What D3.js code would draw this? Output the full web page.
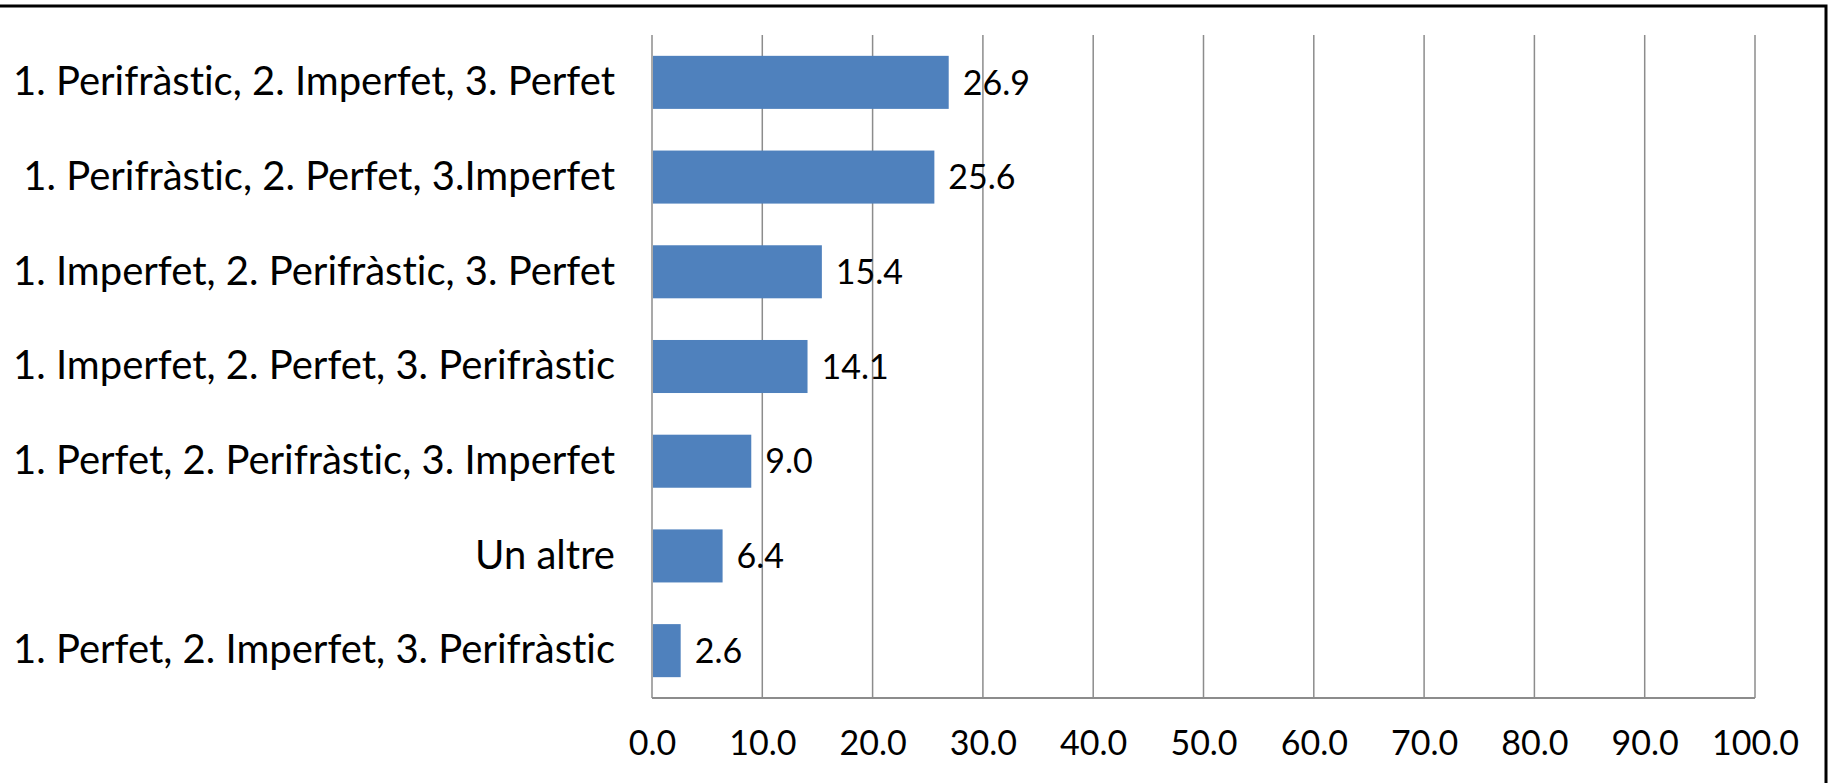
<!DOCTYPE html>
<html>
<head>
<meta charset="utf-8">
<script src="https://cdn.jsdelivr.net/npm/d3@7"></script>
<style>
	body { margin: 0; background: #fff; }
	svg { display: block; }
	text { font-family: Lato, "Open Sans", sans-serif; fill: #000; font-variant-ligatures: none; }
</style>
</head>
<body>
<div id="chart"></div>
<script>
// Data
var categories = [
	"1. Perifràstic, 2. Imperfet, 3. Perfet",
	"1. Perifràstic, 2. Perfet, 3.Imperfet",
	"1. Imperfet, 2. Perifràstic, 3. Perfet",
	"1. Imperfet, 2. Perfet, 3. Perifràstic",
	"1. Perfet, 2. Perifràstic, 3. Imperfet",
	"Un altre",
	"1. Perfet, 2. Imperfet, 3. Perifràstic"
];
var values = [26.9, 25.6, 15.4, 14.1, 9.0, 6.4, 2.6];
var xTicks = [0, 10, 20, 30, 40, 50, 60, 70, 80, 90, 100];

var width = 1829, height = 783;
var margin = {top: 35, right: 74, bottom: 85, left: 652};

var svg = d3.select("#chart").append("svg")
	.attr("width", width)
	.attr("height", height);

// frame (only top and right are visible in the crop)
svg.append("path")
	.attr("d", "M0,6 H1826 V" + height)
	.attr("fill", "none")
	.attr("stroke", "#000")
	.attr("stroke-width", 3);

var x = d3.scaleLinear().domain([0, 100]).range([margin.left, width - margin.right]);
var y = d3.scaleBand().domain(categories).range([margin.top, height - margin.bottom]).paddingInner(0.44).paddingOuter(0.22);

// gridlines
svg.append("g").selectAll("line")
	.data(xTicks)
	.enter().append("line")
	.attr("x1", function(d) { return x(d); })
	.attr("x2", function(d) { return x(d); })
	.attr("y1", margin.top)
	.attr("y2", height - margin.bottom)
	.attr("stroke", "#8c8c8c")
	.attr("stroke-width", 1.5);

// bottom axis line
svg.append("line")
	.attr("x1", x(0))
	.attr("x2", x(100))
	.attr("y1", height - margin.bottom)
	.attr("y2", height - margin.bottom)
	.attr("stroke", "#8c8c8c")
	.attr("stroke-width", 2);

// bars
svg.append("g").selectAll("rect")
	.data(values)
	.enter().append("rect")
	.attr("x", x(0) + 1)
	.attr("y", function(d, i) { return y(categories[i]); })
	.attr("width", function(d) { return x(d) - x(0) - 1; })
	.attr("height", y.bandwidth())
	.attr("fill", "#4f81bd");

// value labels
svg.append("g").selectAll("text")
	.data(values)
	.enter().append("text")
	.attr("x", function(d) { return x(d) + 14; })
	.attr("y", function(d, i) { return y(categories[i]) + y.bandwidth() / 2; })
	.attr("dy", "0.36em")
	.attr("font-size", 34)
	.text(function(d) { return d.toFixed(1); });

// category labels
var yAxis = d3.axisLeft(y).tickSize(0).tickPadding(37);
svg.append("g")
	.attr("transform", "translate(" + margin.left + ",0)")
	.call(yAxis)
	.call(function(g) { g.select(".domain").remove(); })
	.selectAll("text")
	.attr("font-size", 40)
	.style("font-family", "Lato, 'Open Sans', sans-serif");

// x tick labels
var xAxis = d3.axisBottom(x).tickValues(xTicks).tickSize(0).tickPadding(33).tickFormat(d3.format(".1f"));
svg.append("g")
	.attr("transform", "translate(0," + (height - margin.bottom) + ")")
	.call(xAxis)
	.call(function(g) { g.select(".domain").remove(); })
	.selectAll("text")
	.attr("font-size", 34)
	.style("font-family", "Lato, 'Open Sans', sans-serif");
</script>
</body>
</html>
